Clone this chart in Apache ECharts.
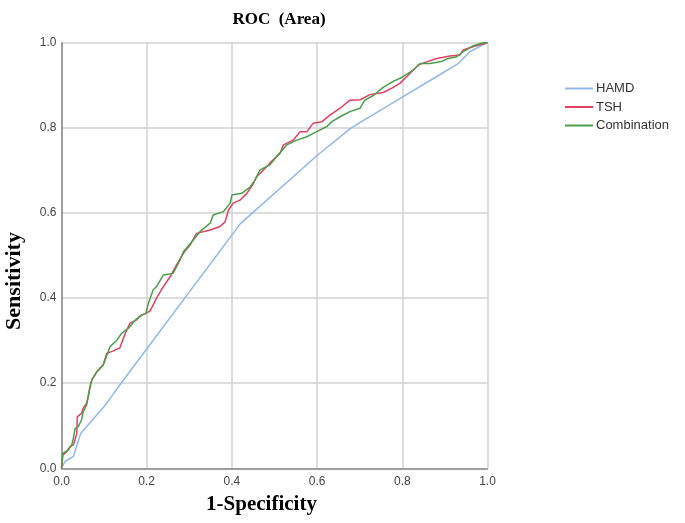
<!DOCTYPE html>
<html>
<head>
<meta charset="utf-8">
<script src="https://cdn.jsdelivr.net/npm/echarts@6/dist/echarts.min.js"></script>
<style>
  html, body { margin: 0; padding: 0; background: #fff; }
  #roc { width: 685px; height: 523px; }
</style>
</head>
<body>
<div id="roc"></div>
<script>
// 系列名称
var seriesNames = ['HAMD', 'TSH', 'Combination'];
var tickValues = [0, 0.2, 0.4, 0.6, 0.8, 1.0];

// HAMD 曲线 (1-特异度, 灵敏度)
var hamdX = [0, 0.008, 0.028, 0.045, 0.10, 0.145, 0.42, 0.60, 0.68, 0.80, 0.88, 0.93, 0.96, 1];
var hamdY = [0, 0.016, 0.028, 0.082, 0.145, 0.207, 0.575, 0.735, 0.80, 0.872, 0.92, 0.95, 0.98, 1];

// TSH 曲线
var tshX = [0, 0.003, 0.012, 0.020, 0.028, 0.036, 0.037, 0.047, 0.051, 0.059, 0.063, 0.067, 0.071, 0.083, 0.098,
  0.106, 0.122, 0.137, 0.150, 0.161, 0.175, 0.188, 0.198, 0.208, 0.223, 0.239, 0.255, 0.270, 0.286, 0.302,
  0.317, 0.349, 0.372, 0.384, 0.392, 0.403, 0.419, 0.435, 0.450, 0.458, 0.474, 0.489, 0.513, 0.521, 0.544,
  0.560, 0.576, 0.591, 0.611, 0.630, 0.654, 0.677, 0.701, 0.724, 0.755, 0.779, 0.795, 0.810, 0.826, 0.838,
  0.857, 0.881, 0.912, 0.935, 0.943, 0.967, 1];
var tshY = [0, 0.031, 0.039, 0.051, 0.055, 0.082, 0.121, 0.129, 0.141, 0.153, 0.168, 0.192, 0.207, 0.227, 0.243,
  0.270, 0.276, 0.283, 0.318, 0.341, 0.348, 0.360, 0.364, 0.370, 0.400, 0.427, 0.450, 0.478, 0.505, 0.525,
  0.552, 0.560, 0.568, 0.579, 0.607, 0.623, 0.630, 0.646, 0.668, 0.685, 0.701, 0.717, 0.740, 0.760, 0.771,
  0.791, 0.791, 0.811, 0.814, 0.830, 0.846, 0.865, 0.866, 0.878, 0.883, 0.895, 0.905, 0.920, 0.936, 0.948,
  0.955, 0.963, 0.969, 0.971, 0.983, 0.991, 1];

// Combination 曲线
var combX = [0, 0.003, 0.016, 0.024, 0.028, 0.032, 0.039, 0.047, 0.051, 0.059, 0.063, 0.067, 0.071, 0.083, 0.098,
  0.114, 0.130, 0.141, 0.157, 0.175, 0.188, 0.198, 0.204, 0.215, 0.223, 0.239, 0.262, 0.278, 0.286, 0.309,
  0.325, 0.349, 0.356, 0.380, 0.396, 0.400, 0.423, 0.442, 0.454, 0.466, 0.489, 0.505, 0.529, 0.552, 0.576,
  0.599, 0.623, 0.634, 0.654, 0.677, 0.701, 0.712, 0.732, 0.755, 0.779, 0.802, 0.826, 0.842, 0.865, 0.889,
  0.908, 0.928, 0.943, 0.967, 0.990, 1];
var combY = [0, 0.035, 0.043, 0.055, 0.071, 0.094, 0.098, 0.113, 0.133, 0.149, 0.172, 0.192, 0.207, 0.227, 0.243,
  0.286, 0.301, 0.317, 0.329, 0.350, 0.360, 0.364, 0.388, 0.419, 0.427, 0.454, 0.458, 0.489, 0.509, 0.536,
  0.556, 0.576, 0.595, 0.603, 0.623, 0.642, 0.646, 0.660, 0.677, 0.701, 0.713, 0.732, 0.760, 0.771, 0.779,
  0.791, 0.803, 0.814, 0.826, 0.838, 0.846, 0.865, 0.876, 0.895, 0.909, 0.920, 0.936, 0.951, 0.951, 0.955,
  0.963, 0.967, 0.979, 0.993, 1.0, 1];

var colorList = ['#8fb8ec', '#e0405f', '#4a9e4a'];

function pairs(xs, ys) {
  return xs.map(function (x, i) { return [x, ys[i]]; });
}

var curves = [pairs(hamdX, hamdY), pairs(tshX, tshY), pairs(combX, combY)];

var myChart = echarts.init(document.getElementById('roc'));
var option = {
  animation: false,
  title: {
    text: 'ROC  (Area)',
    left: 274,
    top: 6,
    textAlign: 'center',
    textStyle: {
      fontFamily: 'Liberation Serif',
      fontSize: 17,
      fontWeight: 'bold',
      color: '#000'
    }
  },
  legend: {
    orient: 'vertical',
    left: 565,
    top: 82,
    padding: 0,
    itemGap: 5.5,
    itemWidth: 28,
    itemHeight: 2,
    icon: 'rect',
    data: seriesNames,
    textStyle: {
      fontFamily: 'Liberation Sans',
      fontSize: 13,
      color: '#333',
      padding: [0, 0, 0, -2]
    }
  },
  grid: {
    left: 61.5,
    right: 197.5,
    top: 42.7,
    bottom: 54.7,
    outerBoundsMode: 'none'
  },
  xAxis: {
    type: 'value',
    min: 0,
    max: 1,
    interval: 0.2,
    name: '1-Specificity',
    nameLocation: 'middle',
    nameGap: 26,
    nameTextStyle: {
      fontFamily: 'Liberation Serif', fontSize: 21, fontWeight: 'bold', color: '#000',
      padding: [0, 26, 0, 0]
    },
    axisLine: { lineStyle: { color: '#8a8a8a', width: 1.5 } },
    axisTick: { show: false },
    axisLabel: {
      color: '#444',
      fontSize: 12,
      fontFamily: 'Liberation Sans',
      margin: 7,
      formatter: function (v) { return v.toFixed(1); }
    },
    splitLine: { show: true, lineStyle: { color: '#d2d2d2', width: 1.5 } }
  },
  yAxis: {
    type: 'value',
    min: 0,
    max: 1,
    interval: 0.2,
    name: 'Sensitivity',
    nameLocation: 'middle',
    nameGap: 36,
    nameTextStyle: {
      fontFamily: 'Liberation Serif', fontSize: 22, fontWeight: 'bold', color: '#000',
      padding: [0, 51, 0, 0]
    },
    axisLine: { show: true, lineStyle: { color: '#8a8a8a', width: 1.5 } },
    axisTick: { show: false },
    axisLabel: {
      color: '#444',
      fontSize: 12,
      fontFamily: 'Liberation Sans',
      margin: 5,
      formatter: function (v) { return v.toFixed(1); }
    },
    splitLine: { show: true, lineStyle: { color: '#d2d2d2', width: 1.5 } }
  },
  series: seriesNames.map(function (name, i) {
    return {
      name: name,
      type: 'line',
      data: curves[i],
      symbol: 'none',
      smooth: false,
      color: colorList[i],
      lineStyle: { width: 1.5, color: colorList[i] }
    };
  })
};
option && myChart.setOption(option);
</script>
</body>
</html>
